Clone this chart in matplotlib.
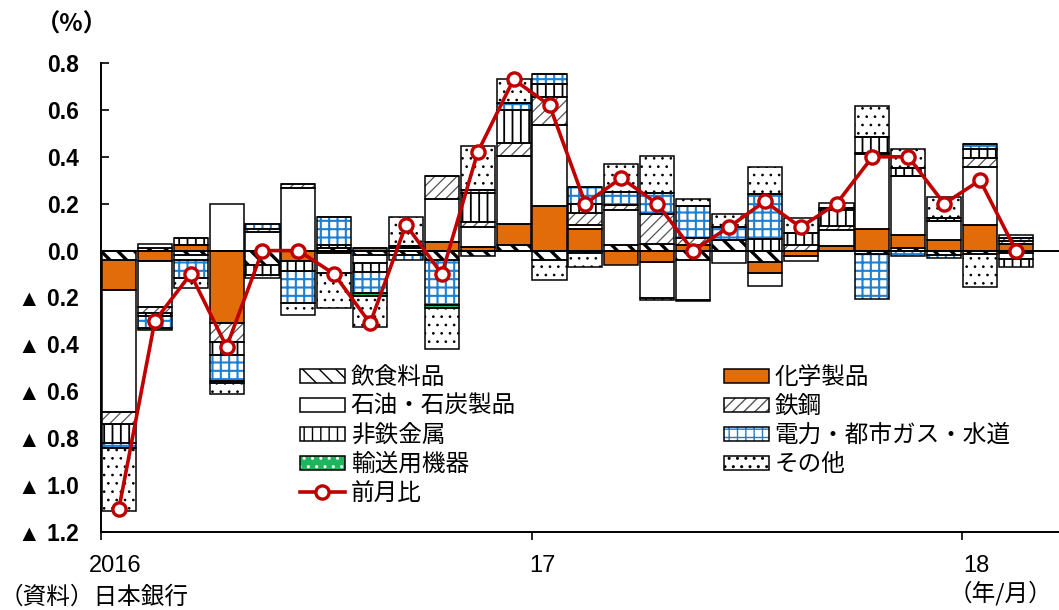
import numpy as np
import matplotlib
matplotlib.use("Agg")
import matplotlib.pyplot as plt
from matplotlib.patches import Patch
from matplotlib.lines import Line2D

JP = ['Noto Sans CJK JP', 'DejaVu Sans']
NUM = ['Liberation Sans', 'Noto Sans CJK JP']

# 2016/1 .. 2018/2, contributions (% points)
months = [f"{y}/{m}" for y in (2016, 2017, 2018) for m in range(1, 13)][:26]

food = [-0.04, 0.01, -0.02, 0, -0.06, 0, 0.01, -0.02, -0.02, -0.04, -0.025, 0.025, -0.04,
        -0.012, 0.025, 0.03, -0.04, 0.046, -0.047, 0, 0, -0.015, 0.01, -0.018, -0.015, -0.01]
chem = [-0.13, -0.045, 0.025, -0.31, 0, -0.045, -0.01, 0.01, 0, 0.035, 0.015, 0.09, 0.19,
        0.09, -0.062, -0.05, 0.025, 0, -0.05, -0.025, 0.018, 0.09, 0.056, 0.045, 0.108, 0.03]
petro = [-0.52, -0.195, -0.02, 0.2, 0.08, 0.265, -0.085, -0.035, 0.01, 0.183, 0.085, 0.29, 0.344,
         0.02, 0.15, -0.15, -0.17, -0.054, -0.053, -0.018, 0.07, 0.32, 0.254, 0.08, 0.25, -0.025]
steel = [-0.05, -0.025, 0, -0.08, 0.01, 0.02, 0, 0, 0, 0.098, 0.02, 0.055, 0.122,
         0.05, 0.02, 0.125, 0.03, 0, 0, 0.025, 0.015, 0.005, 0, 0, 0.035, 0.01]
nonfer = [-0.08, -0.015, 0.03, -0.055, -0.045, -0.04, 0.015, -0.035, 0.01, 0, 0.125, 0.14, 0.053,
          0.04, 0, -0.01, -0.005, 0, 0.05, 0.05, 0.07, 0.07, 0.033, 0.015, 0.04, -0.035]
power = [-0.02, -0.05, -0.075, -0.11, 0.025, -0.14, 0.12, -0.09, -0.02, -0.19, 0.015, 0.03, 0.043,
         0.07, 0.057, 0.09, 0.135, 0.054, 0.19, 0, 0.01, -0.19, -0.025, -0.012, 0.02, 0.015]
trans = [0, -0.01, 0, -0.01, 0, 0, 0, -0.015, 0, -0.015, 0, 0, 0,
         0, 0, 0, 0, 0, 0, 0, 0, 0, 0, 0, 0, 0]
other = [-0.27, 0.02, -0.045, -0.045, -0.01, -0.05, -0.15, -0.13, 0.125, -0.175, 0.185, 0.1, -0.086,
         -0.056, 0.118, 0.16, 0.03, 0.054, 0.115, 0.065, 0.02, 0.13, 0.081, 0.09, -0.14, 0.01]
mom = [-1.1, -0.3, -0.1, -0.41, 0.0, 0.0, -0.1, -0.31, 0.11, -0.1, 0.42, 0.73, 0.62,
       0.2, 0.31, 0.2, 0.0, 0.1, 0.21, 0.1, 0.2, 0.4, 0.4, 0.2, 0.3, 0.0]

names = ["飲食料品", "化学製品", "石油・石炭製品", "鉄鋼", "非鉄金属",
         "電力・都市ガス・水道", "輸送用機器", "その他"]
series = [food, chem, petro, steel, nonfer, power, trans, other]
# facecolor, hatch, hatch colour, hatch linewidth
styles = [("white", "\\\\", "black", 2.4),
          ("#E36C0A", None, "black", 1.0),
          ("white", None, "black", 1.0),
          ("white", "///", "#555555", 0.9),
          ("white", "||", "black", 1.3),
          ("white", "++", "#1F7FD0", 1.5),
          ("#22B35E", "..", "white", 0.7),
          ("white", "..", "black", 0.7)]

yticks = [0.8, 0.6, 0.4, 0.2, 0.0, -0.2, -0.4, -0.6, -0.8, -1.0, -1.2]
ytick_labels = [f"{v:.1f}" if v >= 0 else f"▲ {-v:.1f}" for v in yticks]
year_labels = ["2016", "17", "18"]

fig = plt.figure(figsize=(10.59, 6.10), dpi=100)
ax = fig.add_axes([101 / 1059, 78 / 610, 958 / 1059, 469 / 610])

x = np.arange(len(months)) + 0.5
pos_base = np.zeros(len(months))
neg_base = np.zeros(len(months))
handles = []
for vals, (fc, hatch, hc, hlw) in zip(series, styles):
    v = np.array(vals)
    bottom = np.where(v >= 0, pos_base, neg_base)
    with plt.rc_context({'hatch.linewidth': hlw}):
        bars = ax.bar(x, v, 0.95, bottom=bottom, facecolor=fc, edgecolor=hc,
                      hatch=hatch, linewidth=0, zorder=2)
        for b in bars:
            if hasattr(b, "set_hatch_linewidth"):
                b.set_hatch_linewidth(hlw)
        fill_h = Patch(facecolor=fc, edgecolor=hc, hatch=hatch, linewidth=0)
        if hasattr(fill_h, "set_hatch_linewidth"):
            fill_h.set_hatch_linewidth(hlw)
    ax.bar(x, v, 0.95, bottom=bottom, fill=False, edgecolor="black",
           linewidth=1.1, zorder=2.1)
    handles.append((fill_h, Patch(fill=False, edgecolor="black", linewidth=1.1)))
    pos_base += np.clip(v, 0, None)
    neg_base += np.clip(v, None, 0)

ax.axhline(0, color="black", lw=1.4, zorder=2.5)
ax.plot(x, mom, color="#C00000", lw=2.6, marker="o", ms=9.5, mfc="white",
        mec="#C00000", mew=2.4, zorder=5)

ax.set_xlim(0, 26.7)
ax.set_ylim(-1.2, 0.8)
for s in ("top", "right"):
    ax.spines[s].set_visible(False)
for s in ("left", "bottom"):
    ax.spines[s].set_linewidth(1.4)
ax.set_yticks(yticks)
ax.set_yticklabels(ytick_labels, family=NUM, fontsize=16.5, fontweight="bold")
ax.tick_params(axis="y", direction="in", length=6, width=1.2, pad=16)
ax.set_xticks([0, 12, 24])
ax.set_xticklabels([])
ax.tick_params(axis="x", direction="out", length=6, width=1.2)
for xv, lab in zip([0.4, 12.3, 24.4], year_labels):
    ax.text(xv, -1.3, lab, transform=ax.transData, ha="center", va="top",
            fontsize=17, family=NUM)

line_h = Line2D([], [], color="#C00000", lw=2.6, marker="o", ms=9.5,
                mfc="white", mec="#C00000", mew=2.4)
order = [0, 2, 4, 6, 1, 3, 5, 7]
leg_h = [handles[i] for i in order[:4]] + [line_h] + [handles[i] for i in order[4:]]
leg_l = [names[i] for i in order[:4]] + ["前月比"] + [names[i] for i in order[4:]]
ax.legend(leg_h, leg_l, ncol=2, loc="upper left",
          bbox_to_anchor=(300 / 1059, 1 - 366 / 610), bbox_transform=fig.transFigure,
          frameon=False, borderpad=0, borderaxespad=0, prop={"family": JP, "size": 17},
          handlelength=1.9, handleheight=0.55, handletextpad=0.25,
          labelspacing=0.255, columnspacing=8.8, numpoints=1)

fig.text(72 / 1059, 1 - 25 / 610, "（%）", ha="center", va="center",
         fontsize=17.5, fontweight="bold", family=JP)
fig.text(0, 1 - 597 / 610, "（資料）日本銀行", ha="left", va="center",
         fontsize=17, family=JP)
fig.text(1052 / 1059, 1 - 593 / 610, "（年/月）", ha="right", va="center",
         fontsize=17, family=JP)

fig.savefig("out.png", dpi=100)
